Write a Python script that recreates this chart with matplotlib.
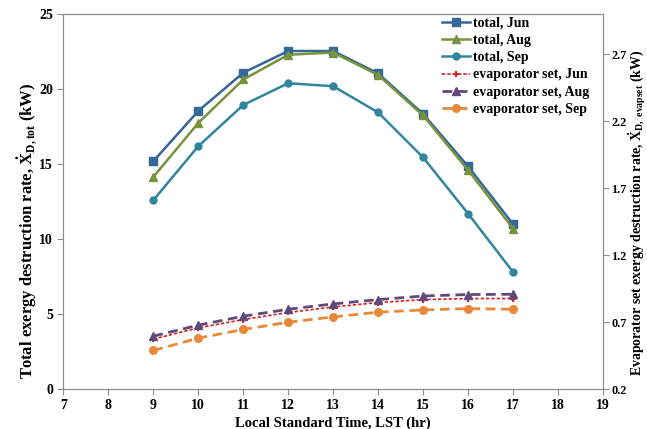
import matplotlib
matplotlib.use("Agg")
import matplotlib.pyplot as plt

plt.rcParams['font.family'] = ['Liberation Serif', 'DejaVu Serif']
plt.rcParams['font.weight'] = 'bold'
plt.rcParams['mathtext.fontset'] = 'custom'
plt.rcParams['mathtext.rm'] = 'Liberation Serif:bold'
plt.rcParams['mathtext.it'] = 'Liberation Serif:bold'
plt.rcParams['mathtext.bf'] = 'Liberation Serif:bold'

hours = [9, 10, 11, 12, 13, 14, 15, 16, 17]
total_jun = [15.2, 18.55, 21.1, 22.55, 22.55, 21.05, 18.35, 14.85, 11.0]
total_aug = [14.15, 17.75, 20.65, 22.3, 22.45, 20.95, 18.25, 14.6, 10.7]
total_sep = [12.6, 16.2, 18.95, 20.4, 20.2, 18.45, 15.45, 11.7, 7.8]
evap_jun = [0.573, 0.657, 0.719, 0.772, 0.813, 0.846, 0.868, 0.876, 0.876]
evap_aug = [0.595, 0.677, 0.744, 0.796, 0.836, 0.868, 0.895, 0.906, 0.908]
evap_sep = [0.488, 0.580, 0.645, 0.699, 0.739, 0.774, 0.791, 0.801, 0.796]

fig = plt.figure(figsize=(6.47, 4.29), dpi=100)
ax = fig.add_axes([0.098, 0.0932, 0.834, 0.8735])
ax2 = ax.twinx()

l1, = ax.plot(hours, total_jun, color='#34679A', marker='s', ms=5.5, lw=1.8, label='total, Jun')
l2, = ax.plot(hours, total_aug, color='#77933C', marker='^', ms=5.5, lw=1.8, label='total, Aug')
l3, = ax.plot(hours, total_sep, color='#31859C', marker='o', ms=5, lw=1.8, label='total, Sep')
l4, = ax2.plot(hours, evap_jun, color='#D62020', marker='+', ms=4, mew=1.5, lw=1.2, ls=(0, (2, 1.2)), label='evaporator set, Jun')
l5, = ax2.plot(hours, evap_aug, color='#604A7B', marker='^', ms=5.5, lw=2, ls=(0, (3.5, 2)), label='evaporator set, Aug')
l6, = ax2.plot(hours, evap_sep, color='#E8893A', marker='o', ms=5.5, lw=2, ls=(0, (3.5, 2)), label='evaporator set, Sep')

ax.set_xlim(7, 19)
ax.set_ylim(0, 25)
ax2.set_ylim(0.2, 3.0)
ax.set_xticks(range(7, 20))
ax.set_yticks([0, 5, 10, 15, 20, 25])
ax2.set_yticks([0.2, 0.7, 1.2, 1.7, 2.2, 2.7])
ax2.set_yticklabels(['0.2', '0.7', '1.2', '1.7', '2.2', '2.7'])

for a in (ax, ax2):
    for s in a.spines.values():
        s.set_color('#8C8C8C')
    a.tick_params(colors='#8C8C8C', labelcolor='black', labelsize=10, length=4, direction='out')
    for lab in a.get_xticklabels() + a.get_yticklabels():
        lab.set_fontweight('bold')
ax2.tick_params(axis='y', labelsize=8.8, pad=2)
for lab in ax2.get_yticklabels():
    lab.set_fontweight('bold')

ax.set_xlabel('Local Standard Time, LST (hr)', fontsize=10.5, fontweight='bold', labelpad=3)
fig.text(27.5 / 647, 0.462, r'Total exergy destruction rate, $\dot{X}_{D,tot}$ (kW)',
         rotation=90, ha='center', va='center', fontsize=12, fontweight='bold')
fig.text(637 / 647, 0.505, r'Evaporator set exergy destruction rate, $\dot{X}_{D,\ evapset}$ (kW)',
         rotation=90, ha='center', va='center', fontsize=10, fontweight='bold')

leg = ax2.legend(handles=[l1, l2, l3, l4, l5, l6], loc='upper right', bbox_to_anchor=(1.0, 1.03),
                 frameon=False, fontsize=10, handlelength=2.0, handletextpad=0.2, labelspacing=0.3,
                 borderaxespad=0.6)
for t in leg.get_texts():
    t.set_fontweight('bold')

fig.savefig('out.png', dpi=100)
